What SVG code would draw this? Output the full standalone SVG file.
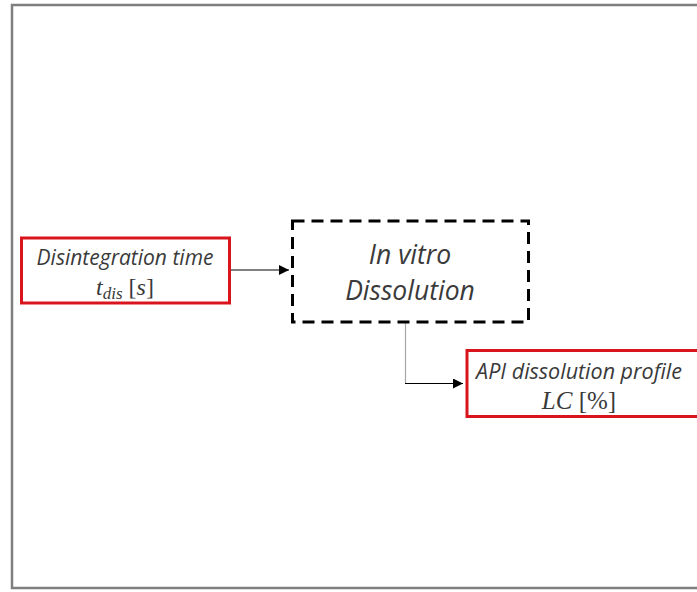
<svg xmlns="http://www.w3.org/2000/svg" width="697" height="592" viewBox="0 0 697 592">
  <style>
    .frame { fill: #ffffff; stroke: #7f7f7f; stroke-width: 2.5; }
    .io { fill: #ffffff; stroke: #d9141c; stroke-width: 3; }
    .proc { fill: #ffffff; stroke: #000000; stroke-width: 3; stroke-dasharray: 12 7; }
    .lbl { font-family: "Open Sans", "Liberation Sans", sans-serif; font-style: italic; fill: #3a3a3a; text-anchor: middle; }
    .math { font-family: "Liberation Serif", "DejaVu Serif", serif; fill: #3a3a3a; text-anchor: middle; }
    .wire { fill: none; stroke: #000000; stroke-width: 1; }
    .wire-grey { fill: none; stroke: #a6a6a6; stroke-width: 1.2; }
  </style>
  <defs>
    <marker id="arrow" viewBox="0 0 10 10" refX="10" refY="5" markerWidth="10" markerHeight="10" markerUnits="userSpaceOnUse" orient="auto">
      <path d="M0,0 L10,5 L0,10 z" fill="#000000"/>
    </marker>
  </defs>

  <rect width="697" height="592" fill="#ffffff"/>
  <!-- outer frame, right side runs off the canvas -->
  <rect class="frame" x="12" y="5" width="700" height="583"/>

  <g id="connectors">
    <path class="wire" d="M231,270 H289" marker-end="url(#arrow)"/>
    <path class="wire-grey" d="M405.5,323 V383"/>
    <path class="wire" d="M405,383.5 H463" marker-end="url(#arrow)"/>
  </g>

  <g id="node-disintegration">
    <rect class="io" x="21.5" y="238" width="208" height="65"/>
    <text class="lbl" x="125" y="265" font-size="21">Disintegration time</text>
    <text class="math" x="125" y="295" font-size="24"><tspan font-style="italic">t</tspan><tspan font-style="italic" font-size="17" dy="4">dis</tspan><tspan dy="-4"> [</tspan><tspan font-style="italic">s</tspan>]</text>
  </g>

  <g id="node-dissolution">
    <rect class="proc" x="292.5" y="221" width="236" height="101"/>
    <text class="lbl" x="410" y="264" font-size="26.5">In vitro</text>
    <text class="lbl" x="410" y="300" font-size="26.5">Dissolution</text>
  </g>

  <g id="node-profile">
    <rect class="io" x="467" y="350.5" width="240" height="66"/>
    <text class="lbl" x="579" y="379" font-size="21.5">API dissolution profile</text>
    <text class="math" x="579" y="409" font-size="25"><tspan font-style="italic">LC</tspan> [%]</text>
  </g>
</svg>
